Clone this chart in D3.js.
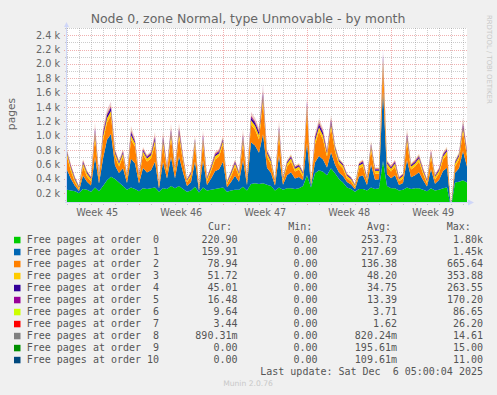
<!DOCTYPE html>
<html><head><meta charset="utf-8">
<script src="https://cdn.jsdelivr.net/npm/d3@7"></script>
<style>body{margin:0;background:#f0f0f0;}svg{display:block;}</style>
</head><body>
<svg id="chart" width="497" height="395"></svg>
<script>
// ---------- data ----------
const title = "Node 0, zone Normal, type Unmovable - by month";
const yAxisLabel = "pages";
const seriesNames = ["Free pages at order  0","Free pages at order  1","Free pages at order  2","Free pages at order  3","Free pages at order  4","Free pages at order  5","Free pages at order  6","Free pages at order  7","Free pages at order  8","Free pages at order  9","Free pages at order 10"];
const seriesColors = ["#00CC00","#0066B3","#FF8000","#FFCC00","#330099","#990099","#CCFF00","#FF0000","#808080","#008F00","#00487D"];
const curValues = ["220.90","159.91","78.94","51.72","45.01","16.48","9.64","3.44","890.31m","0.00","0.00"];
const minValues = ["0.00","0.00","0.00","0.00","0.00","0.00","0.00","0.00","0.00","0.00","0.00"];
const avgValues = ["253.73","217.69","136.38","48.20","34.75","13.39","3.71","1.62","820.24m","195.61m","109.61m"];
const maxValues = ["1.80k","1.45k","665.64","353.88","263.55","170.20","86.65","26.20","14.61","15.00","11.00"];
const lastUpdate = "Last update: Sat Dec  6 05:00:04 2025";
const footer = "Munin 2.0.76";
const sideText = "RRDTOOL / TOBI OETIKER";

const yMajorTicks = [200,400,600,800,1000,1200,1400,1600,1800,2000,2200,2400];
const yTickLabels = ["0.2 k","0.4 k","0.6 k","0.8 k","1.0 k","1.2 k","1.4 k","1.6 k","1.8 k","2.0 k","2.2 k","2.4 k"];
const yMinorTicks = [100,300,500,700,900,1100,1300,1500,1700,1900,2100,2300,2500];
const weekStarts = [Date.UTC(2025,10,3),Date.UTC(2025,10,10),Date.UTC(2025,10,17),Date.UTC(2025,10,24),Date.UTC(2025,11,1)];
const weekLabels = ["Week 45","Week 46","Week 47","Week 48","Week 49"];

const startTime = Date.UTC(2025,10,3,23,24);
const stepHours = 8;

const order0 = [250,240,230,200,260,250,220,280,230,300,
380,430,400,350,300,250,280,260,230,270,
260,270,280,220,270,260,300,270,300,260,
220,240,290,210,280,240,250,260,270,280,
220,240,250,250,290,240,330,340,330,340,
320,300,240,280,250,270,270,260,270,300,
450,280,480,520,500,450,550,480,400,350,
280,260,220,260,260,240,280,260,270,650,
300,270,270,240,250,280,260,270,270,250,
230,270,240,250,270,280,0,350,360,380,
350];
const order1 = [278,159,73,33,188,111,88,426,106,381,
564,596,188,134,248,94,401,355,106,283,
230,249,359,46,365,147,406,141,414,230,
80,117,354,27,376,76,153,247,266,360,
63,117,194,111,370,76,579,524,433,682,
236,181,68,443,70,182,224,147,157,81,
450,27,150,200,170,110,220,120,90,90,
76,64,38,172,188,76,319,130,124,1007,
164,141,182,76,94,385,163,182,224,136,
65,266,92,136,241,277,0,134,187,408,
218];
const order2 = [185,106,49,22,126,74,58,284,71,254,
241,256,125,90,165,63,267,237,71,188,
154,166,240,31,244,98,270,94,276,154,
53,78,236,18,251,50,102,164,177,240,
42,78,130,74,247,50,248,224,185,455,
157,121,45,295,46,122,150,98,105,54,
466,18,249,340,278,153,345,183,112,106,
51,42,25,114,126,50,212,87,83,335,
110,94,122,50,63,256,109,122,150,91,
43,177,61,91,160,184,0,90,124,272,
145];
const order3 = [40,42,38,25,44,40,36,62,38,58,
60,64,45,40,42,36,60,44,38,42,
40,44,58,25,60,40,62,38,60,42,
25,38,48,24,58,36,40,44,42,48,
26,38,42,36,60,36,58,55,60,70,
44,40,26,60,36,40,44,38,40,36,
58,24,55,60,56,42,60,44,40,38,
36,34,24,40,42,36,48,38,38,70,
40,38,42,34,36,60,40,42,44,38,
34,44,36,38,42,44,0,40,44,60,
42];
const order4 = [18,20,16,10,20,18,15,42,16,40,
40,44,20,18,20,15,42,22,16,20,
18,20,40,10,42,18,44,16,42,20,
10,16,24,9,40,15,18,22,20,24,
10,16,20,15,42,15,40,38,40,50,
20,18,10,42,15,18,22,16,18,15,
40,9,38,42,38,20,42,22,18,16,
15,14,9,18,20,15,24,16,16,46,
18,16,20,14,15,42,18,20,22,16,
14,22,15,16,20,22,0,18,22,42,
20];
const order5 = [12,13,11,8,14,12,10,20,11,19,
20,21,14,12,13,10,20,14,11,13,
12,14,19,8,20,12,21,11,20,13,
8,11,15,7,19,10,12,14,13,15,
8,11,13,10,20,10,19,18,20,24,
14,12,8,20,10,12,14,11,12,10,
19,7,18,20,18,13,20,14,12,11,
10,9,7,12,13,10,15,11,11,22,
12,11,13,9,10,20,12,13,14,11,
9,14,10,11,13,14,0,12,14,20,
13];
const order6 = [4,4,3,2,5,4,3,6,4,5,6,6,4,4,4,3,6,4,3,4,4,4,5,2,6,4,6,3,6,4,2,3,5,2,5,3,4,4,4,5,2,3,4,3,6,3,6,5,6,8,4,4,2,6,3,4,4,3,4,3,6,2,5,6,5,4,6,4,4,3,3,3,2,4,4,3,5,4,4,9,4,4,4,3,3,6,4,4,5,4,3,4,3,4,4,5,0,4,5,6,4];
const order7 = [2,2,1,1,2,2,1,3,1,2,3,3,2,2,2,1,3,2,1,2,2,2,2,1,3,2,3,1,3,2,1,1,2,1,2,1,2,2,2,2,1,1,2,1,3,1,3,2,2,4,2,2,1,3,1,2,2,1,2,1,3,1,2,3,2,2,3,2,2,1,1,1,1,2,2,1,2,2,2,4,2,2,2,1,1,3,2,2,2,2,1,2,1,2,2,2,0,2,2,3,3];
const order8 = [1,1,0,0,1,1,0,2,0,1,2,2,1,1,1,0,2,1,0,1,1,1,1,0,2,1,2,0,2,1,0,0,1,0,1,0,1,1,1,1,0,0,1,0,2,0,2,1,1,3,1,1,0,2,0,1,1,0,1,0,2,0,1,2,1,1,2,1,1,0,0,0,0,1,1,0,1,1,1,3,1,1,1,0,0,2,1,1,1,1,0,1,0,1,1,1,0,1,1,2,1];
const order9 = [0,0,0,0,0,0,0,0,0,0,0,1,0,0,0,0,0,0,0,0,0,0,0,0,0,0,1,0,0,0,0,0,0,0,0,0,0,0,0,0,0,0,0,0,0,0,0,0,0,2,0,0,0,1,0,0,0,0,0,0,1,0,0,1,0,0,0,0,0,0,0,0,0,0,0,0,0,0,0,2,0,0,0,0,0,1,0,0,0,0,0,0,0,0,0,0,0,0,0,1,0];
const order10 = [0,0,0,0,0,0,0,0,0,0,1,0,0,0,0,0,0,0,0,0,0,0,0,0,0,0,0,0,0,0,0,0,0,0,0,0,0,0,0,0,0,0,0,0,0,0,0,0,0,1,0,0,0,0,0,0,0,0,0,0,0,0,0,0,0,0,1,0,0,0,0,0,0,0,0,0,0,0,0,2,0,0,0,0,0,0,0,0,0,0,0,0,0,0,0,0,0,0,0,1,0];
// faded (short-lived) part seen above the solid stack
const hazeTop = [20,10,5,0,14,8,6,60,8,50,
50,55,14,10,18,6,55,25,8,20,
16,18,50,0,50,10,55,10,55,16,
0,8,25,0,50,5,10,18,20,25,
0,8,14,8,50,5,50,45,40,90,
16,12,0,60,5,12,16,10,12,6,
55,0,32,45,36,12,45,14,8,8,
6,4,0,12,14,5,25,10,10,70,
12,10,14,5,6,50,12,14,18,10,
4,20,6,10,18,20,0,10,14,55,
16];

// ---------- layout ----------
const W = 497, H = 395;
const plot = {left: 67, right: 467, top: 28, bottom: 203};
const FONT = "'DejaVu Sans', sans-serif";
const MONO = "'DejaVu Sans Mono', monospace";
const textColor = "#666666";
const axisColor = "#CFD6F8";
const gridColor = "rgba(143,143,143,0.45)";
const mgridColor = "rgba(222,79,79,0.45)";

const svg = d3.select("#chart");
svg.append("rect").attr("width", W).attr("height", H).attr("fill", "#F0F0F0");
svg.append("rect").attr("x", plot.left).attr("y", plot.top)
  .attr("width", plot.right - plot.left).attr("height", plot.bottom - plot.top).attr("fill", "#FFFFFF");

const allSeries = [order0,order1,order2,order3,order4,order5,order6,order7,order8,order9,order10,hazeTop];
const keys = allSeries.map((_, k) => "o" + k);
const stepMs = stepHours * 3600e3;
const rows = order0.map((_, i) => {
  const r = {t: new Date(startTime + i * stepMs)};
  allSeries.forEach((s, k) => r[keys[k]] = s[i]);
  return r;
});

const x = d3.scaleTime()
  .domain([new Date(startTime), new Date(startTime + (order0.length - 1) * stepMs)])
  .range([plot.left, plot.right]);
const y = d3.scaleLinear().domain([65, 2500]).range([plot.bottom, plot.top]);

const defs = svg.append("defs");
defs.append("clipPath").attr("id", "clip").append("rect")
  .attr("x", plot.left).attr("y", plot.top)
  .attr("width", plot.right - plot.left).attr("height", plot.bottom - plot.top);
const grad = defs.append("linearGradient").attr("id", "haze")
  .attr("gradientUnits", "userSpaceOnUse").attr("x1", 0).attr("x2", 0).attr("y1", 180).attr("y2", 60);
grad.append("stop").attr("offset", 0).attr("stop-color", "#FFA860").attr("stop-opacity", 0.6);
grad.append("stop").attr("offset", 1).attr("stop-color", "#C8A0D8").attr("stop-opacity", 0.5);

// grid (beneath data)
const grid = svg.append("g").attr("shape-rendering", "crispEdges");
const dash = "1,1";
yMinorTicks.forEach(v => {
  const yy = Math.round(y(v)) + 0.5;
  grid.append("line").attr("x1", plot.left - 2).attr("x2", plot.right).attr("y1", yy).attr("y2", yy)
    .attr("stroke", gridColor).attr("stroke-dasharray", dash);
});
yMajorTicks.forEach(v => {
  const yy = Math.round(y(v)) + 0.5;
  grid.append("line").attr("x1", plot.left - 3).attr("x2", plot.right).attr("y1", yy).attr("y2", yy)
    .attr("stroke", mgridColor).attr("stroke-dasharray", dash);
});
const days = d3.utcDay.range(x.domain()[0], x.domain()[1]);
days.forEach(d => {
  if (d.getUTCDay() === 1) return;
  const xx = Math.round(x(d)) + 0.5;
  grid.append("line").attr("x1", xx).attr("x2", xx).attr("y1", plot.top).attr("y2", plot.bottom + 2)
    .attr("stroke", gridColor).attr("stroke-dasharray", dash);
});
weekStarts.forEach(ws => {
  const d = new Date(ws);
  if (d < x.domain()[0]) return;
  const xx = Math.round(x(d)) + 0.5;
  grid.append("line").attr("x1", xx).attr("x2", xx).attr("y1", plot.top).attr("y2", plot.bottom + 3)
    .attr("stroke", mgridColor).attr("stroke-dasharray", dash);
});

const layers = d3.stack().keys(keys)(rows);
const area = d3.area().x(d => x(d.data.t)).y0(d => y(d[0])).y1(d => y(d[1]));
svg.append("g").attr("clip-path", "url(#clip)")
  .selectAll("path").data(layers).join("path")
  .attr("d", area)
  .attr("fill", (d, k) => k < seriesColors.length ? seriesColors[k] : "url(#haze)");

// axes
svg.append("line").attr("x1", plot.left - 0.5).attr("x2", plot.left - 0.5)
  .attr("y1", plot.bottom).attr("y2", plot.top - 2).attr("stroke", axisColor);
svg.append("line").attr("x1", plot.left - 2).attr("x2", plot.right + 3)
  .attr("y1", plot.bottom - 0.5).attr("y2", plot.bottom - 0.5).attr("stroke", axisColor);
svg.append("path").attr("d", `M${plot.left - 3},${plot.top - 1} L${plot.left + 2},${plot.top - 1} L${plot.left - 0.5},${plot.top - 6} Z`).attr("fill", axisColor);
svg.append("path").attr("d", `M${plot.right + 1},${plot.bottom - 3.5} L${plot.right + 1},${plot.bottom + 2.5} L${plot.right + 7},${plot.bottom - 0.5} Z`).attr("fill", axisColor);

// y labels
yMajorTicks.forEach((v, k) => {
  svg.append("text").attr("x", 60).attr("y", y(v) + 3.5).attr("text-anchor", "end")
    .attr("font-family", FONT).attr("font-size", 9.7).attr("fill", textColor).text(yTickLabels[k]);
});
// x labels
weekStarts.forEach((ws, k) => {
  const mid = new Date(ws + 3.5 * 86400e3);
  svg.append("text").attr("x", x(mid)).attr("y", 215.5).attr("text-anchor", "middle")
    .attr("font-family", FONT).attr("font-size", 9.7).attr("fill", textColor).text(weekLabels[k]);
});

// title
svg.append("text").attr("x", 248).attr("y", 23).attr("text-anchor", "middle")
  .attr("font-family", FONT).attr("font-size", 12.5).attr("fill", textColor).text(title);
// y axis label
svg.append("text").attr("transform", "translate(15,114) rotate(-90)").attr("text-anchor", "middle")
  .attr("font-family", FONT).attr("font-size", 10.7).attr("fill", textColor).text(yAxisLabel);
// side text
svg.append("text").attr("transform", "translate(486.5,15) rotate(90)").attr("text-anchor", "start")
  .attr("font-family", FONT).attr("font-size", 6.9).attr("fill", "#C8C8C8").text(sideText);

// legend
const leg = svg.append("g").attr("font-family", MONO).attr("font-size", 10).attr("fill", "#555555")
  .style("white-space", "pre");
const base0 = 243.3, rowH = 12;
[["Cur:", 208], ["Min:", 288.3], ["Avg:", 367], ["Max:", 446.7]].forEach(([t, xx]) => {
  leg.append("text").attr("x", xx).attr("y", 230).text(t);
});
seriesNames.forEach((n, k) => {
  const by = base0 + k * rowH;
  leg.append("rect").attr("x", 14).attr("y", by - 6.5).attr("width", 6.5).attr("height", 6.5).attr("fill", seriesColors[k]);
  leg.append("text").attr("x", 26.7).attr("y", by).attr("xml:space", "preserve").text(n);
  leg.append("text").attr("x", 237.5).attr("y", by).attr("text-anchor", "end").text(curValues[k]);
  leg.append("text").attr("x", 317.5).attr("y", by).attr("text-anchor", "end").text(minValues[k]);
  leg.append("text").attr("x", 397).attr("y", by).attr("text-anchor", "end").text(avgValues[k]);
  leg.append("text").attr("x", 483).attr("y", by).attr("text-anchor", "end").text(maxValues[k]);
});
leg.append("text").attr("x", 483).attr("y", base0 + 11 * rowH).attr("text-anchor", "end")
  .attr("xml:space", "preserve").text(lastUpdate);
svg.append("text").attr("x", 248).attr("y", 385.5).attr("text-anchor", "middle")
  .attr("font-family", FONT).attr("font-size", 7.6).attr("fill", "#C8C8C8").text(footer);
</script>
</body></html>
